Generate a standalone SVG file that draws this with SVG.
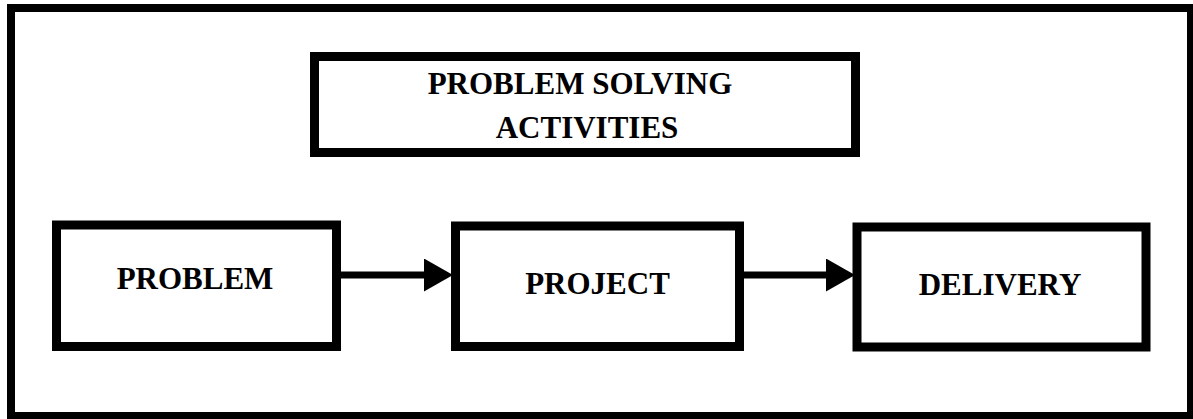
<svg xmlns="http://www.w3.org/2000/svg" width="1193" height="419" viewBox="0 0 1193 419">
  <style>
    .box { fill: #ffffff; stroke: #000000; stroke-width: 9; }
    .frame { fill: #ffffff; stroke: #000000; stroke-width: 8; }
    .lbl { font-family: "Liberation Serif", "Times New Roman", serif; font-weight: bold; font-size: 31px; fill: #000000; text-anchor: middle; }
    .conn { stroke: #000000; stroke-width: 7; fill: none; }
  </style>
  <defs>
    <marker id="arrow" markerUnits="userSpaceOnUse" viewBox="0 0 29 33" markerWidth="29" markerHeight="33" refX="0" refY="16.5" orient="auto">
      <path d="M0,0 L29,16.5 L0,33 Z" fill="#000000"/>
    </marker>
  </defs>
  <rect class="frame" x="11" y="8" width="1180" height="408"/>
  <g id="title">
    <rect class="box" x="314.5" y="56.5" width="541" height="96"/>
    <text class="lbl" x="580" y="94">PROBLEM SOLVING</text>
    <text class="lbl" x="587" y="138">ACTIVITIES</text>
  </g>
  <g id="problem">
    <rect class="box" x="56.5" y="225" width="280" height="121.5"/>
    <text class="lbl" x="195" y="289">PROBLEM</text>
  </g>
  <g id="project">
    <rect class="box" x="455.5" y="226" width="284" height="120.5"/>
    <text class="lbl" x="597.5" y="294">PROJECT</text>
  </g>
  <g id="delivery">
    <rect class="box" x="857" y="227" width="289" height="120"/>
    <text class="lbl" x="1000" y="295">DELIVERY</text>
  </g>
  <g id="connectors">
    <line class="conn" x1="341" y1="275" x2="424" y2="275" marker-end="url(#arrow)"/>
    <line class="conn" x1="744" y1="275" x2="826" y2="275" marker-end="url(#arrow)"/>
  </g>
</svg>
